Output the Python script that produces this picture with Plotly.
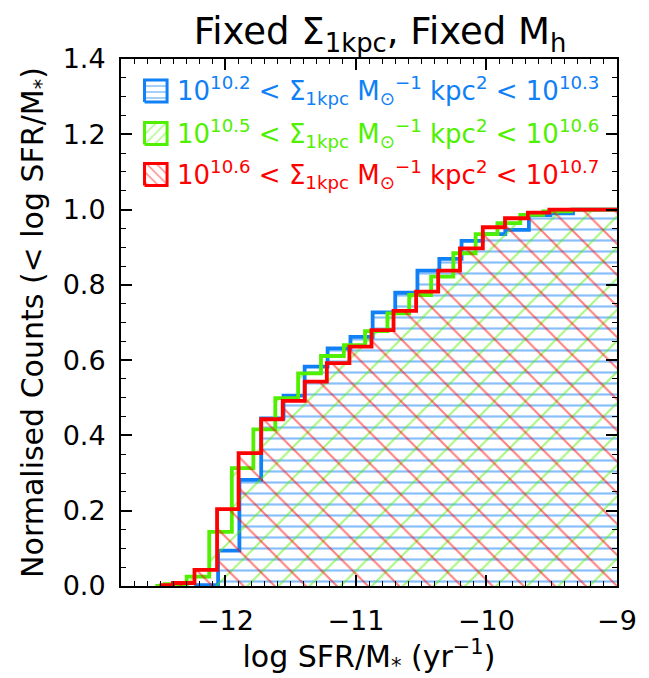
import plotly.graph_objects as go

# ---- data (cumulative normalised counts) ----
# bin edges (log SFR/M*) and cumulative value on each bin, last edge closes the range
blue_edges = [-12.225, -12.056, -11.893, -11.726, -11.555, -11.393, -11.217, -11.042, -10.872,
              -10.699, -10.529, -10.361, -10.191, -10.028, -9.856, -9.675, -9.510, -9.337, -9.0]
blue_vals = [0.002, 0.094, 0.282, 0.445, 0.506, 0.583, 0.631, 0.662, 0.727,
             0.779, 0.838, 0.869, 0.917, 0.935, 0.946, 0.985, 0.990, 1.0]

green_edges = [-12.537, -12.466, -12.297, -12.124, -11.951, -11.786, -11.618, -11.443, -11.268,
               -11.093, -10.930, -10.759, -10.592, -10.424, -10.254, -10.083, -9.916, -9.741,
               -9.565, -9.353, -9.0]
green_vals = [0.0, 0.005, 0.025, 0.144, 0.313, 0.416, 0.499, 0.565, 0.611,
              0.640, 0.677, 0.724, 0.773, 0.822, 0.884, 0.935, 0.964, 0.986,
              0.995, 1.0]

red_edges = [-12.49, -12.402, -12.237, -12.064, -11.899, -11.726, -11.561, -11.392, -11.223,
             -11.050, -10.881, -10.712, -10.539, -10.370, -10.203, -10.028, -9.858, -9.683,
             -9.518, -9.0]
red_vals = [0.002, 0.008, 0.043, 0.204, 0.353, 0.443, 0.492, 0.543, 0.592,
            0.636, 0.680, 0.731, 0.782, 0.838, 0.897, 0.953, 0.977, 0.992, 1.0]

x_ticks = [-12, -11, -10, -9]
y_ticks = [0.0, 0.2, 0.4, 0.6, 0.8, 1.0, 1.2, 1.4]

legend_labels = [
    "10<sup>10.2</sup> < Σ<sub>1kpc</sub> M<sub>⊙</sub><sup>−1</sup> kpc<sup>2</sup> < 10<sup>10.3</sup>",
    "10<sup>10.5</sup> < Σ<sub>1kpc</sub> M<sub>⊙</sub><sup>−1</sup> kpc<sup>2</sup> < 10<sup>10.6</sup>",
    "10<sup>10.6</sup> < Σ<sub>1kpc</sub> M<sub>⊙</sub><sup>−1</sup> kpc<sup>2</sup> < 10<sup>10.7</sup>",
]

BLUE = "#0f80f5"
GREEN = "#50f000"
RED = "#ff0000"
FONT = "DejaVu Sans"

series = [
    (BLUE, "-", 11, 0.2, blue_edges, blue_vals),
    (GREEN, "/", 22, 0.09, green_edges, green_vals),
    (RED, "\\", 22, 0.09, red_edges, red_vals),
]

# plot-area geometry in pixels (for placing the hand-made legend)
L, R, T, B = 121, 627, 59, 586


def fx(px):
    return (px - L) / (R - L)


def fy(py):
    return (B - py) / (B - T)


def step_xy(edges, vals):
    xs = [edges[0]] + list(edges)
    ys = [0.0] + list(vals) + [vals[-1]]
    return xs, ys


fig = go.Figure()
for col, shape, size, sol, edges, vals in series:
    xs, ys = step_xy(edges, vals)
    fig.add_trace(go.Scatter(
        x=xs, y=ys, mode="lines", line=dict(color=col, width=3.8, shape="hv"),
        fill="tozeroy", fillcolor="rgba(0,0,0,0)",
        fillpattern=dict(shape=shape, fgcolor=col, bgcolor="rgba(0,0,0,0)",
                         size=size, solidity=sol),
        showlegend=False, hoverinfo="skip",
    ))

# hand-made legend: hatched boxes on an overlay axis spanning the plot area [0,1]x[0,1]
row_centers = [91, 133.5, 174.5]
box_x0, box_x1, half = 145, 168, 11
annotations = []
for (col, shape, size, sol, _, _), yc, text in zip(series, row_centers, legend_labels):
    x0, x1 = fx(box_x0), fx(box_x1)
    y0, y1 = fy(yc + half), fy(yc - half)
    fig.add_trace(go.Scatter(
        x=[x0, x1, x1, x0, x0], y=[y0, y0, y1, y1, y0], xaxis="x2", yaxis="y2",
        mode="lines", line=dict(color=col, width=3), fill="toself", fillcolor="rgba(0,0,0,0)",
        fillpattern=dict(shape=shape, fgcolor=col, bgcolor="rgba(0,0,0,0)",
                         size=6 if shape == "-" else 7, solidity=0.25 if shape == "-" else 0.2),
        showlegend=False, hoverinfo="skip",
    ))
    annotations.append(dict(
        text=text, xref="paper", yref="paper", x=fx(176), y=fy(yc), xanchor="left", yanchor="middle",
        showarrow=False, font=dict(family=FONT, size=26, color=col),
    ))

axis_common = dict(
    showline=True, linecolor="black", linewidth=2, mirror="allticks",
    ticks="inside", ticklen=11, tickwidth=1.5, tickcolor="black",
    showgrid=False, zeroline=False,
    tickfont=dict(family=FONT, size=27, color="black"),
)

xaxis = dict(
    range=[-12.8, -9.0], tickvals=x_ticks,
    minor=dict(ticks="inside", dtick=0.1, ticklen=5, tickwidth=1, tickcolor="black"),
    title=dict(text="log SFR/M<sub>*</sub> (yr<sup>−1</sup>)", font=dict(family=FONT, size=30, color="black"), standoff=8),
    ticklabelstandoff=10,
    **axis_common,
)
yaxis = dict(
    range=[0, 1.4], tickvals=y_ticks, tickformat=".1f",
    minor=dict(ticks="inside", dtick=0.05, ticklen=5, tickwidth=1, tickcolor="black"),
    title=dict(text="Normalised Counts (< log SFR/M<sub>*</sub>)", font=dict(family=FONT, size=30, color="black"), standoff=10),
    ticklabelstandoff=8,
    **axis_common,
)

fig.update_layout(
    width=649, height=678,
    margin=dict(l=L, r=649 - R, t=T, b=678 - B),
    paper_bgcolor="white", plot_bgcolor="white",
    xaxis=xaxis, yaxis=yaxis,
    xaxis2=dict(overlaying="x", anchor="y2", range=[0, 1], visible=False, fixedrange=True),
    yaxis2=dict(overlaying="y", anchor="x2", range=[0, 1], visible=False, fixedrange=True),
    title=dict(text="Fixed Σ<sub>1kpc</sub>, Fixed M<sub>h</sub>", x=380 / 649, xanchor="center",
               y=1 - 31 / 678, yanchor="middle", font=dict(family=FONT, size=37, color="black")),
    annotations=annotations,
    showlegend=False,
)

fig.write_html("out.html")
